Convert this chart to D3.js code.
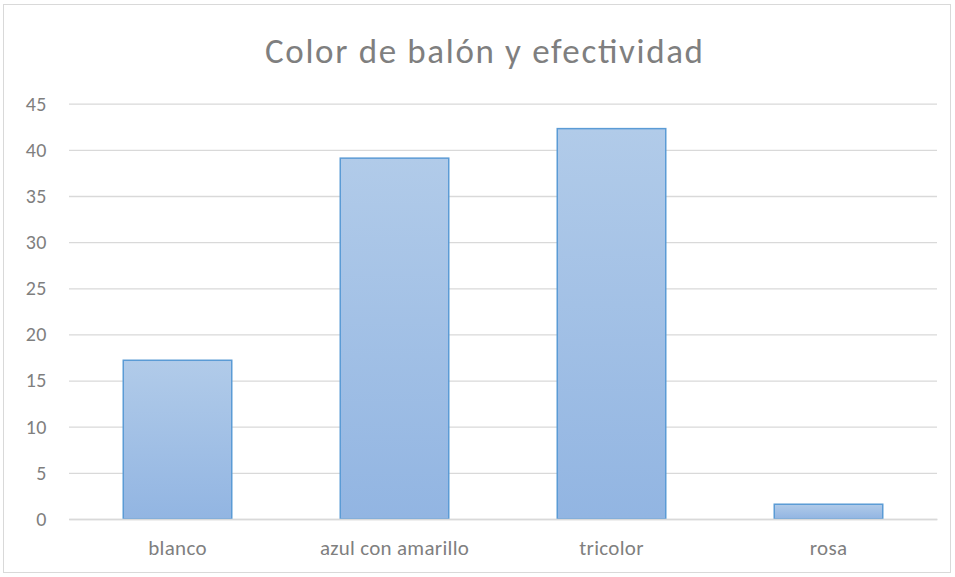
<!DOCTYPE html>
<html><head><meta charset="utf-8">
<script src="https://cdn.jsdelivr.net/npm/d3@7"></script>
<style>body{margin:0;background:#fff}svg{display:block}</style>
</head><body>
<svg id="c" width="955" height="577"></svg>
<script>
const categories = ["blanco", "azul con amarillo", "tricolor", "rosa"];
const values = [17.2, 39.1, 42.3, 1.6];
const yTicks = [0, 5, 10, 15, 20, 25, 30, 35, 40, 45];
const title = "Color de balón y efectividad";

const svg = d3.select("#c");
const font = "Carlito, Calibri, Lato, sans-serif";
svg.append("rect").attr("x",3.5).attr("y",4.5).attr("width",947).attr("height",568)
  .attr("fill","#fff").attr("stroke","#d9d9d9").attr("stroke-width",1);

const m = {l:69, r:937, t:103.7, b:519};
const x = d3.scaleBand().domain(categories).range([m.l, m.r]).paddingInner(0.5).paddingOuter(0.25);
const y = d3.scaleLinear().domain([0,45]).range([m.b, m.t]);

const defs = svg.append("defs");
const g = defs.append("linearGradient").attr("id","bg").attr("x1",0).attr("y1",0).attr("x2",0).attr("y2",1);
g.append("stop").attr("offset","0%").attr("stop-color","#b1cbe9");
g.append("stop").attr("offset","100%").attr("stop-color","#92b5e2");

const ya = svg.append("g").attr("transform",`translate(${m.l},0)`)
  .call(d3.axisLeft(y).tickValues(yTicks).tickSize(-(m.r-m.l)).tickPadding(22));
ya.select(".domain").remove();
ya.selectAll(".tick line").attr("stroke","#d9d9d9").attr("stroke-width",1.3);
ya.selectAll(".tick text").attr("fill","#7f7f7f").style("font-family",font).style("font-size","20px")
  .style("letter-spacing","0.5px");

svg.append("g").selectAll("rect").data(values).join("rect")
  .attr("x",(d,i)=>x(categories[i])).attr("width",x.bandwidth())
  .attr("y",d=>y(d)).attr("height",d=>y(0)-y(d))
  .attr("fill","url(#bg)").attr("stroke","#5b9bd5").attr("stroke-width",1.5);

const xa = svg.append("g").attr("transform",`translate(0,${m.b})`)
  .call(d3.axisBottom(x).tickSize(0).tickPadding(21));
xa.select(".domain").attr("stroke","#d9d9d9").attr("stroke-width",1.3);
xa.selectAll(".tick text").attr("fill","#7f7f7f").style("font-family",font).style("font-size","21px")
  .style("letter-spacing","0.3px");

svg.append("text").attr("x",484).attr("y",63).attr("text-anchor","middle")
  .attr("fill","#7f7f7f").style("font-family",font).style("font-size","35px").style("font-weight","300")
  .attr("textLength",438).attr("lengthAdjust","spacing").text(title);
</script>
</body></html>
